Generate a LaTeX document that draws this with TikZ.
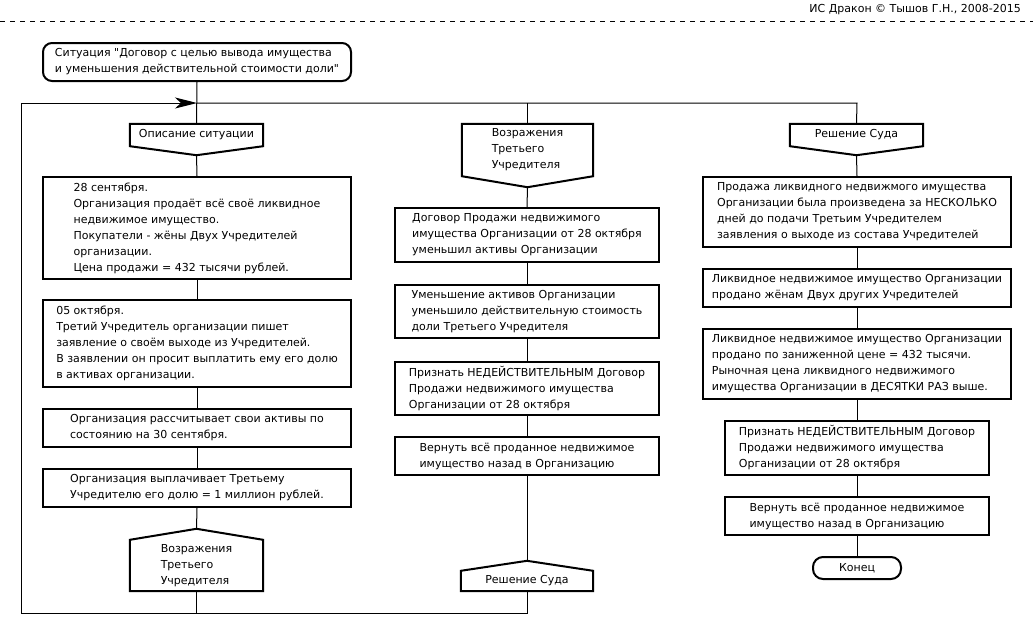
\documentclass[tikz,border=0pt]{standalone}
\usepackage{fontspec}
\setmainfont{DejaVu Sans}[Ligatures=TeXOff]
\usetikzlibrary{arrows.meta,calc}
\newcommand\hdrout[1]{\draw[outl] (#1.north west) -- (#1.north east) -- (#1.south east) -- (#1p) -- (#1.south west) -- cycle;}
\newcommand\adrout[1]{\draw[outl] (#1.south west) -- (#1.north west) -- (#1p) -- (#1.north east) -- (#1.south east) -- cycle;}
\begin{document}
\begin{tikzpicture}[x=1pt,y=-1pt,
  every node/.style={font=\fontsize{11}{16}\selectfont, inner sep=0pt, align=left},
  outl/.style={line width=2pt, line join=miter},
  act/.style={draw, line width=2pt},
  plain/.style={},
  conn/.style={line width=1pt}]
\useasboundingbox (0,0) rectangle (1033,635);

% header
\node[anchor=east, font=\fontsize{11}{14}\selectfont] (credit) at (1021,10) {ИС Дракон © Тышов Г.Н., 2008-2015};
\coordinate (dl) at (0,21);
\coordinate (dr) at (1033,21);
\draw[line width=1pt, dash pattern=on 5pt off 5pt] (dl) -- (dr);

% title
\node[act, rounded corners=9pt, minimum width=308pt, minimum height=38pt] (title) at (197,62)
  {Ситуация "Договор с целью вывода имущества\\и уменьшения действительной стоимости доли"};

% column 1
\node[plain, minimum width=133pt, minimum height=22pt] (h1) at (196.5,135) {Описание ситуации};
\coordinate (h1p) at ($(h1.south)+(0,9)$);
\hdrout{h1}
\node[act, minimum width=308pt, minimum height=102pt] (b1) at (197,228)
  {28 сентября.\\Организация продаёт всё своё ликвидное\\недвижимое имущество.\\Покупатели - жёны Двух Учредителей\\организации.\\Цена продажи = 432 тысячи рублей.};
\node[act, minimum width=308pt, minimum height=87pt] (b2) at (197,343.5)
  {05 октября.\\Третий Учредитель организации пишет\\заявление о своём выходе из Учредителей.\\В заявлении он просит выплатить ему его долю\\в активах организации.};
\node[act, minimum width=308pt, minimum height=38pt] (b3) at (197,428)
  {Организация рассчитывает свои активы по\\состоянию на 30 сентября.};
\node[act, minimum width=308pt, minimum height=38pt] (b4) at (197,488)
  {Организация выплачивает Третьему\\Учредителю его долю = 1 миллион рублей.};
\node[plain, minimum width=133pt, minimum height=51pt] (a1) at (196.5,565.5)
  {Возражения\\Третьего\\Учредителя};
\coordinate (a1p) at ($(a1.north)+(0,-11)$);
\adrout{a1}

% column 2
\node[plain, minimum width=131pt, minimum height=52pt] (h2) at (527.5,150)
  {Возражения\\Третьего\\Учредителя};
\coordinate (h2p) at ($(h2.south)+(0,11)$);
\hdrout{h2}
\node[act, minimum width=264pt, minimum height=54pt] (b5) at (527,235)
  {Договор Продажи недвижимого\\имущества Организации от 28 октября\\уменьшил активы Организации};
\node[act, minimum width=264pt, minimum height=53pt] (b6) at (527,311.5)
  {Уменьшение активов Организации\\уменьшило действительную стоимость\\доли Третьего Учредителя};
\node[act, minimum width=264pt, minimum height=53pt] (b7) at (527,388.5)
  {Признать НЕДЕЙСТВИТЕЛЬНЫМ Договор\\Продажи недвижимого имущества\\Организации от 28 октября};
\node[act, minimum width=264pt, minimum height=38pt] (b8) at (527,456)
  {Вернуть всё проданное недвижимое\\имущество назад в Организацию};
\node[plain, minimum width=132pt, minimum height=20pt] (a2) at (527,581)
  {Решение Суда};
\coordinate (a2p) at ($(a2.north)+(0,-10)$);
\adrout{a2}

% column 3
\node[plain, minimum width=133pt, minimum height=22pt] (h3) at (856.5,135) {Решение Суда};
\coordinate (h3p) at ($(h3.south)+(0,9)$);
\hdrout{h3}
\node[act, minimum width=308pt, minimum height=70pt] (b9) at (857,212)
  {Продажа ликвидного недвижмого имущества\\Организации была произведена за НЕСКОЛЬКО\\дней до подачи Третьим Учредителем\\заявления о выходе из состава Учредителей};
\node[act, minimum width=308pt, minimum height=38pt] (b10) at (857,288)
  {Ликвидное недвижимое имущество Организации\\продано жёнам Двух других Учредителей};
\node[act, minimum width=308pt, minimum height=70pt] (b11) at (857,364)
  {Ликвидное недвижимое имущество Организации\\продано по заниженной цене = 432 тысячи.\\Рыночная цена ликвидного недвижимого\\имущества Организации в ДЕСЯТКИ РАЗ выше.};
\node[act, minimum width=264pt, minimum height=54pt] (b12) at (857,448)
  {Признать НЕДЕЙСТВИТЕЛЬНЫМ Договор\\Продажи недвижимого имущества\\Организации от 28 октября};
\node[act, minimum width=264pt, minimum height=38pt] (b13) at (857,516)
  {Вернуть всё проданное недвижимое\\имущество назад в Организацию};
\node[act, rounded corners=10pt, minimum width=88pt, minimum height=22pt] (end) at (857,568) {Конец};

% junction coordinates
\coordinate (jt) at (197,103);
\coordinate (jl) at (21,103);
\coordinate (jr) at (857,103);
\coordinate (jm) at (527.5,103);
\coordinate (bl) at (21,613);
\coordinate (b1c) at (196.5,613);
\coordinate (b2c) at (527,613);

% connectors
\draw[conn] (title.south) -- (h1.north);
\draw[conn] (jt) -- (jr) -- (h3.north);
\draw[conn] (jm) -- (h2.north);
\draw[conn] (h1p) -- (b1.north);
\draw[conn] (b1.south) -- (b2.north);
\draw[conn] (b2.south) -- (b3.north);
\draw[conn] (b3.south) -- (b4.north);
\draw[conn] (b4.south) -- (a1p);
\draw[conn] (a1.south) -- (b1c);
\draw[conn] (h2p) -- (b5.north);
\draw[conn] (b5.south) -- (b6.north);
\draw[conn] (b6.south) -- (b7.north);
\draw[conn] (b7.south) -- (b8.north);
\draw[conn] (b8.south) -- (a2p);
\draw[conn, -{Stealth[length=22pt,width=11pt,inset=6pt]}] (a2.south) -- (b2c) -- (bl) -- (jl) -- (jt);
\draw[conn] (h3p) -- (b9.north);
\draw[conn] (b9.south) -- (b10.north);
\draw[conn] (b10.south) -- (b11.north);
\draw[conn] (b11.south) -- (b12.north);
\draw[conn] (b12.south) -- (b13.north);
\draw[conn] (b13.south) -- (end.north);
\end{tikzpicture}
\end{document}
